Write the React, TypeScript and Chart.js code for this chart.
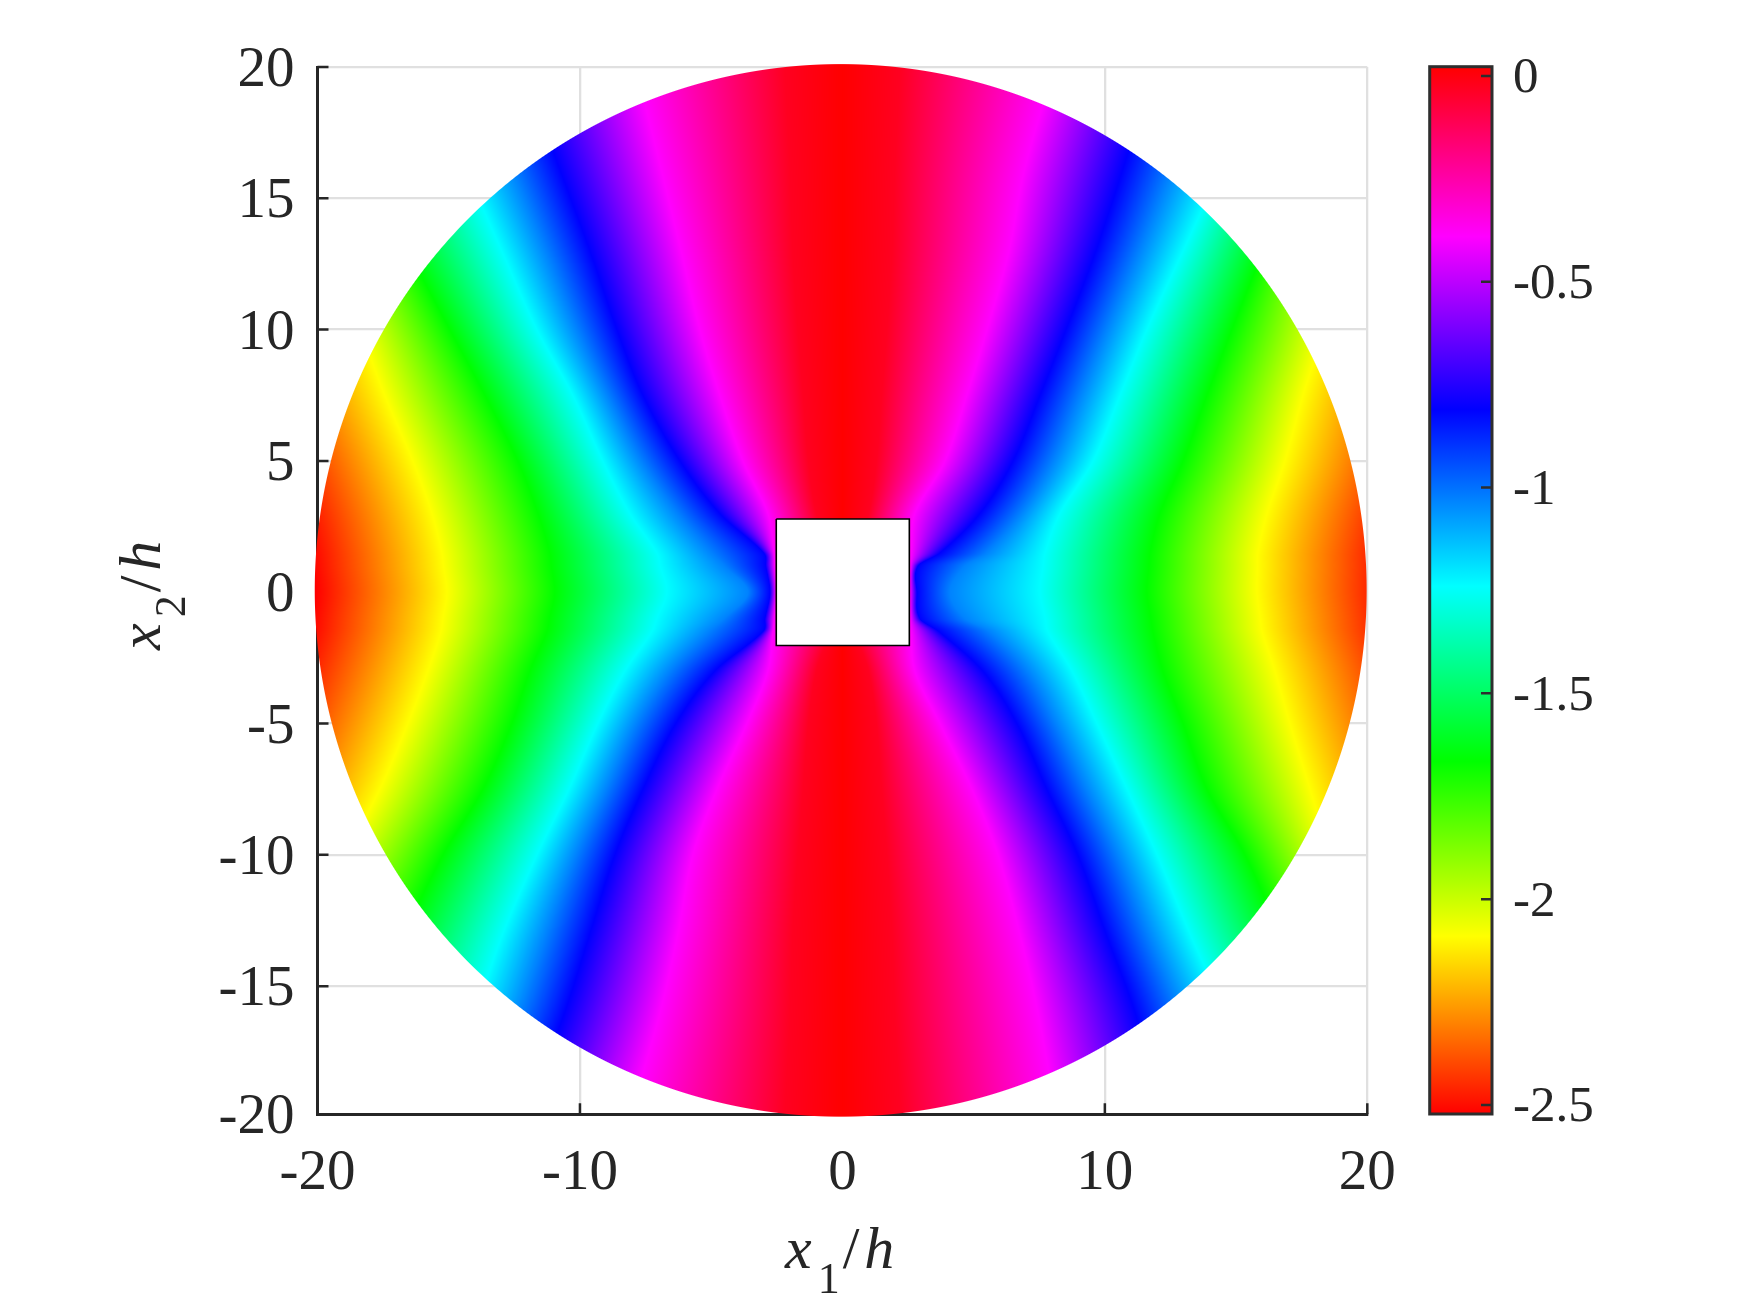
import React, { useEffect, useRef } from "react";
import { Chart, registerables } from "chart.js";

Chart.register(...registerables);

// Isolines: for each row (x2/h) the x1/h at which the field reaches a level
const rowY = [20, 16, 13, 10, 7.5, 5, 3, 1.5, 1, 0, -1, -1.5, -3, -5, -7.5, -10, -13, -16, -20];
const leftMagenta = [-7.87, -6.88, -6.15, -5.43, -4.67, -3.79, -2.84, -2.61, -2.58, -2.53, -2.6, -2.65, -2.84, -3.64, -4.78, -5.7, -6.27, -6.95, -8.1];
const leftBlue = [-12.21, -10.73, -9.62, -8.59, -7.6, -6.19, -4.67, -3.0, -2.92, -2.76, -2.95, -3.03, -4.86, -6.35, -7.6, -8.67, -9.62, -10.58, -12.1];
const leftAzure = [-14.16, -12.52, -11.3, -10.11, -8.94, -7.66, -6.29, -5.0, -4.5, -3.6, -4.5, -5.1, -6.57, -7.85, -9.0, -10.15, -11.28, -12.3, -13.91];
const leftCyan = [-16.1, -14.31, -12.98, -11.64, -10.27, -9.13, -8.1, -7.07, -6.94, -6.69, -7.07, -7.26, -8.29, -9.32, -10.42, -11.64, -12.94, -14.01, -15.72];
const leftGreen = [-20.41, -18.2, -16.56, -14.96, -13.62, -12.37, -11.6, -11.15, -11.09, -10.96, -11.16, -11.26, -11.91, -12.6, -13.7, -15.22, -16.67, -17.82, -19.53];
const leftYellow = [-23.34, -21.25, -19.72, -18.39, -17.44, -16.37, -15.64, -15.26, -15.2, -15.07, -15.22, -15.3, -15.8, -16.56, -17.63, -18.96, -20.48, -21.82, -23.72];
const rightMagenta = [8.06, 6.92, 6.35, 5.51, 4.74, 3.91, 2.76, 2.61, 2.59, 2.57, 2.59, 2.61, 2.76, 3.72, 4.94, 5.93, 6.76, 7.45, 8.17];
const rightBlue = [11.91, 10.65, 9.66, 8.52, 7.53, 6.5, 5.24, 3.72, 2.88, 2.84, 2.95, 3.68, 5.35, 6.65, 7.79, 8.97, 10.04, 11.15, 12.21];
const rightAzure = [14.2, 12.52, 11.32, 10.06, 9.06, 8.03, 6.8, 5.5, 4.67, 4.1, 4.67, 5.6, 7.05, 8.14, 9.3, 10.48, 11.64, 12.87, 14.16];
const rightCyan = [16.48, 14.39, 12.98, 11.6, 10.58, 9.55, 8.29, 7.72, 7.65, 7.53, 7.73, 7.83, 8.75, 9.7, 10.85, 11.99, 13.24, 14.58, 16.1];
const rightGreen = [18.85, 17.24, 16.03, 14.84, 13.89, 12.98, 12.1, 11.72, 11.68, 11.6, 11.75, 11.83, 12.21, 12.98, 13.89, 15.34, 16.67, 18.01, 19.91];
const rightYellow = [21.25, 19.53, 18.77, 18.31, 17.55, 16.86, 16.18, 15.83, 15.82, 15.8, 15.92, 15.99, 16.48, 17.05, 17.82, 18.58, 19.72, 21.06, 22.77];
const redBand = [2.2, 2.0, 1.9, 1.7, 1.5, 1.3, 1.0, 0.5, 0.5, 0.5, 0.5, 0.5, 1.0, 1.3, 1.5, 1.7, 1.9, 2.0, 2.2];
const redGap = 5;

// Field levels of the isolines, and the colour scale
const levelMagenta = -0.39;
const levelBlue = -0.81;
const levelAzure = -1.03;
const levelCyan = -1.24;
const levelGreen = -1.665;
const levelYellow = -2.09;
const levelRedLow = -2.522;
const levelRedBand = -0.03;
const levelRedTop = 0.0226;
const stopValues = [0.0226, -0.39, -0.81, -1.24, -1.665, -2.09, -2.522];
const stopColors = [[255, 0, 0], [255, 0, 255], [0, 0, 255], [0, 255, 255], [0, 255, 0], [255, 255, 0], [255, 0, 0]];

// Disk and hole
const diskCenter = [-0.065, 0.07];
const diskRadius = 20.04;
const holeX = [-2.52, 2.55, 2.55, -2.52, -2.52];
const holeY = [2.79, 2.79, -2.03, -2.03, 2.79];

// Axes
const xTicks = [-20, -10, 0, 10, 20];
const yTicks = [-19.88, -15, -10, -5, 0, 5, 10, 15, 20];
const yTickLabels = ["-20", "-15", "-10", "-5", "0", "5", "10", "15", "20"];
const barTicks = [-2.5, -2, -1.5, -1, -0.5, 0];

const INK = "#262626";
const SERIF = '"Liberation Serif"';

function colorOf(v: number, out: number[]) {
  const n = stopValues.length;
  if (v >= stopValues[0]) { out[0] = 255; out[1] = 0; out[2] = 0; return; }
  for (let i = 1; i < n; i++) {
    if (v >= stopValues[i]) {
      const t = (stopValues[i - 1] - v) / (stopValues[i - 1] - stopValues[i]);
      const a = stopColors[i - 1], b = stopColors[i];
      out[0] = a[0] + (b[0] - a[0]) * t;
      out[1] = a[1] + (b[1] - a[1]) * t;
      out[2] = a[2] + (b[2] - a[2]) * t;
      return;
    }
  }
  out[0] = 255; out[1] = 0; out[2] = 0;
}

function rowKnots(y: number) {
  let i = 0;
  const last = rowY.length - 1;
  while (i < last - 1 && y < rowY[i + 1]) i++;
  const dy = rowY[i + 1] - rowY[i];
  const t = Math.max(0, Math.min(1, (y - rowY[i]) / dy));
  const t2 = t * t, t3 = t2 * t;
  const h00 = 2 * t3 - 3 * t2 + 1, h10 = t3 - 2 * t2 + t, h01 = -2 * t3 + 3 * t2, h11 = t3 - t2;
  // smooth curve through the rows, as the isolines are in the picture
  const at = (arr: number[]) => {
    const slope = (k: number) => {
      const a = Math.max(0, k - 1), b = Math.min(last, k + 1);
      return (arr[b] - arr[a]) / (rowY[b] - rowY[a]);
    };
    return h00 * arr[i] + h10 * dy * slope(i) + h01 * arr[i + 1] + h11 * dy * slope(i + 1);
  };
  const ly = at(leftYellow), ry = at(rightYellow), band = at(redBand);
  const xs = [ly - redGap, ly, at(leftGreen), at(leftCyan), at(leftAzure), at(leftBlue), at(leftMagenta), -band, 0, band,
    at(rightMagenta), at(rightBlue), at(rightAzure), at(rightCyan), at(rightGreen), ry, ry + redGap];
  for (let k = 1; k < xs.length; k++) xs[k] = Math.max(xs[k], xs[k - 1] + 0.001);
  return {
    xs,
    vs: [levelRedLow, levelYellow, levelGreen, levelCyan, levelAzure, levelBlue, levelMagenta, levelRedBand, levelRedTop, levelRedBand,
      levelMagenta, levelBlue, levelAzure, levelCyan, levelGreen, levelYellow, levelRedLow],
  };
}

function paintField(chart: any) {
  const sx = chart.scales.x, sy = chart.scales.y;
  const pxL = Math.floor(sx.getPixelForValue(diskCenter[0] - diskRadius)) - 2;
  const pxR = Math.ceil(sx.getPixelForValue(diskCenter[0] + diskRadius)) + 2;
  const pyT = Math.floor(sy.getPixelForValue(diskCenter[1] + diskRadius)) - 2;
  const pyB = Math.ceil(sy.getPixelForValue(diskCenter[1] - diskRadius)) + 2;
  const w = pxR - pxL, h = pyB - pyT;
  const off = document.createElement("canvas");
  off.width = w; off.height = h;
  const octx = off.getContext("2d")!;
  const img = octx.createImageData(w, h);
  const ppu = Math.abs(sx.getPixelForValue(1) - sx.getPixelForValue(0));
  const rgb = [0, 0, 0];
  for (let j = 0; j < h; j++) {
    const y = sy.getValueForPixel(pyT + j + 0.5);
    const { xs, vs } = rowKnots(y);
    let k = 0;
    for (let i = 0; i < w; i++) {
      const x = sx.getValueForPixel(pxL + i + 0.5);
      const d = Math.hypot(x - diskCenter[0], y - diskCenter[1]);
      const alpha = Math.max(0, Math.min(1, (diskRadius - d) * ppu + 0.5));
      if (alpha <= 0) continue;
      while (k < xs.length - 2 && x > xs[k + 1]) k++;
      const t = Math.max(0, Math.min(1, (x - xs[k]) / (xs[k + 1] - xs[k])));
      colorOf(vs[k] + (vs[k + 1] - vs[k]) * t, rgb);
      const p = (j * w + i) * 4;
      img.data[p] = rgb[0]; img.data[p + 1] = rgb[1]; img.data[p + 2] = rgb[2];
      img.data[p + 3] = alpha * 255;
    }
  }
  octx.putImageData(img, 0, 0);
  chart.ctx.drawImage(off, pxL, pyT);
}

function titleParts(ctx: CanvasRenderingContext2D, sub: string) {
  const parts = [
    { t: "x", font: `italic 60px ${SERIF}`, dy: 0, gap: 6 },
    { t: sub, font: `44px ${SERIF}`, dy: 25, gap: 3 },
    { t: "/", font: `60px ${SERIF}`, dy: 0, gap: 5 },
    { t: "h", font: `italic 60px ${SERIF}`, dy: 0, gap: 0 },
  ];
  let x = 0;
  for (const p of parts) {
    ctx.font = p.font;
    ctx.fillText(p.t, x, p.dy);
    x += ctx.measureText(p.t).width + p.gap;
  }
}

const mainPlugin = {
  id: "mainPlugin",
  beforeDatasetsDraw(chart: any) {
    const { ctx, chartArea } = chart;
    const sx = chart.scales.x, sy = chart.scales.y;
    ctx.save();
    ctx.strokeStyle = INK;
    ctx.lineWidth = 2.5;
    ctx.beginPath();
    for (const v of xTicks) {
      const p = sx.getPixelForValue(v);
      ctx.moveTo(p, chartArea.bottom);
      ctx.lineTo(p, chartArea.bottom - 11);
    }
    for (const v of yTicks) {
      const p = sy.getPixelForValue(v);
      ctx.moveTo(chartArea.left, p);
      ctx.lineTo(chartArea.left + 11, p);
    }
    ctx.stroke();
    ctx.restore();
    paintField(chart);
  },
  afterDraw(chart: any) {
    const { ctx } = chart;
    ctx.save();
    ctx.fillStyle = INK;
    ctx.textAlign = "left";
    ctx.textBaseline = "alphabetic";
    ctx.save();
    ctx.translate(785, 1268);
    titleParts(ctx, "1");
    ctx.restore();
    ctx.save();
    ctx.translate(160, 650);
    ctx.rotate(-Math.PI / 2);
    titleParts(ctx, "2");
    ctx.restore();
    ctx.restore();
  },
};

const barPlugin = {
  id: "barPlugin",
  afterDatasetsDraw(chart: any) {
    const { ctx, chartArea } = chart;
    const sy = chart.scales.y;
    ctx.save();
    ctx.strokeStyle = "#2e2e2e";
    ctx.lineWidth = 3;
    ctx.strokeRect(chartArea.left, chartArea.top, chartArea.right - chartArea.left, chartArea.bottom - chartArea.top);
    ctx.lineWidth = 2.5;
    ctx.beginPath();
    for (const v of barTicks) {
      const p = sy.getPixelForValue(v);
      ctx.moveTo(chartArea.right, p);
      ctx.lineTo(chartArea.right - 11, p);
    }
    ctx.stroke();
    ctx.restore();
  },
};

export default function App() {
  const mainRef = useRef<HTMLCanvasElement>(null);
  const barRef = useRef<HTMLCanvasElement>(null);

  useEffect(() => {
    const main = new Chart(mainRef.current!, {
      type: "scatter",
      data: {
        datasets: [
          {
            label: "hole",
            data: holeX.map((x, i) => ({ x, y: holeY[i] })),
            showLine: true,
            borderColor: "#000000",
            borderWidth: 1.6,
            backgroundColor: "#ffffff",
            fill: "shape",
            pointRadius: 0,
            tension: 0,
          },
        ],
      },
      options: {
        responsive: false,
        animation: false,
        events: [],
        layout: { padding: { left: 200, top: 67, right: 382.7, bottom: 98.7 } },
        plugins: { legend: { display: false }, tooltip: { enabled: false } },
        scales: {
          x: {
            type: "linear",
            min: -20,
            max: 20,
            afterBuildTicks: (s: any) => { s.ticks = xTicks.map((value) => ({ value })); },
            afterFit: (s: any) => { s.height = 100; },
            grid: { color: "#e0e0e0", lineWidth: 2.3, drawTicks: false },
            border: { color: INK, width: 3 },
            ticks: {
              color: INK,
              font: { family: "Liberation Serif", size: 57 },
              padding: 26,
              maxRotation: 0,
              autoSkip: false,
              callback: (v: any) => String(v),
            },
          },
          y: {
            type: "linear",
            min: -19.88,
            max: 20,
            afterBuildTicks: (s: any) => { s.ticks = yTicks.map((value) => ({ value })); },
            afterFit: (s: any) => { s.width = 117.5; },
            grid: { color: "#e0e0e0", lineWidth: 2.3, drawTicks: false },
            border: { color: INK, width: 3 },
            ticks: {
              color: INK,
              font: { family: "Liberation Serif", size: 57 },
              padding: 23,
              labelOffset: 4,
              autoSkip: false,
              callback: (v: any) => yTickLabels[yTicks.indexOf(v)] ?? String(v),
            },
          },
        },
      },
      plugins: [mainPlugin],
    } as any);

    const bar = new Chart(barRef.current!, {
      type: "bar",
      data: {
        labels: ["value"],
        datasets: [
          {
            label: "scale",
            data: [[stopValues[stopValues.length - 1], stopValues[0]]],
            barPercentage: 1,
            categoryPercentage: 1,
            backgroundColor: (c: any) => {
              const ch = c.chart;
              if (!ch.chartArea) return "#ff0000";
              const s = ch.scales.y;
              const top = s.getPixelForValue(stopValues[0]);
              const bottom = s.getPixelForValue(stopValues[stopValues.length - 1]);
              const g = ch.ctx.createLinearGradient(0, top, 0, bottom);
              stopValues.forEach((v, i) => {
                const [r, gg, b] = stopColors[i];
                g.addColorStop((s.getPixelForValue(v) - top) / (bottom - top), `rgb(${r},${gg},${b})`);
              });
              return g;
            },
          },
        ],
      },
      options: {
        responsive: false,
        animation: false,
        events: [],
        layout: { padding: { left: 49.7, top: 66.7, right: 58, bottom: 199 } },
        plugins: { legend: { display: false }, tooltip: { enabled: false } },
        scales: {
          x: { display: false },
          y: {
            position: "right",
            min: stopValues[stopValues.length - 1],
            max: stopValues[0],
            afterBuildTicks: (s: any) => { s.ticks = barTicks.map((value) => ({ value })); },
            afterFit: (s: any) => { s.width = 200; },
            grid: { display: false, drawTicks: false },
            border: { display: false },
            ticks: {
              color: INK,
              font: { family: "Liberation Serif", size: 51 },
              padding: 21,
              labelOffset: 3,
              autoSkip: false,
              callback: (v: any) => String(v),
            },
          },
        },
      },
      plugins: [barPlugin],
    } as any);

    return () => {
      main.destroy();
      bar.destroy();
    };
  }, []);

  return (
    <div style={{ position: "absolute", left: 0, top: 0, width: 1750, height: 1313, background: "#ffffff", overflow: "hidden" }}>
      <canvas ref={mainRef} width={1750} height={1313} style={{ position: "absolute", left: 0, top: 0, display: "block" }} />
      <canvas ref={barRef} width={370} height={1313} style={{ position: "absolute", left: 1380, top: 0, display: "block" }} />
    </div>
  );
}
